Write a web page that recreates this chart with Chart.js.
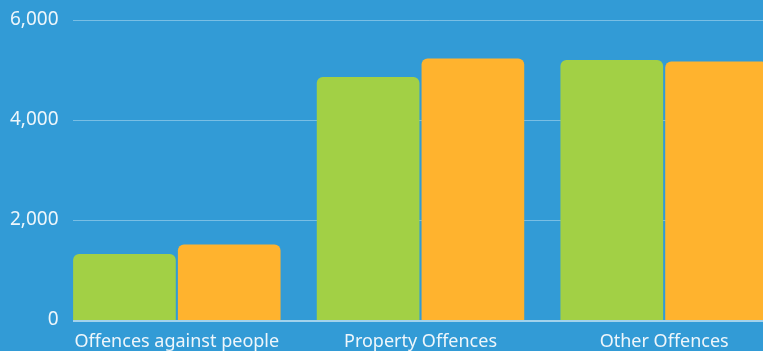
<!DOCTYPE html>
<html>
<head>
<meta charset="utf-8">
<script src="https://cdn.jsdelivr.net/npm/chart.js@4.4.1/dist/chart.umd.min.js"></script>
<style>
  html, body { margin: 0; padding: 0; background: #329bd6; overflow: hidden; }
  #wrap { position: absolute; left: 0; top: 0; width: 786px; height: 351px; }
</style>
</head>
<body>
<div id="wrap"><canvas id="offences-chart"></canvas></div>
<script>
// ===============================
// DATA
// ===============================
const categories = ["Offences against people", "Property Offences", "Other Offences"];
const seriesA = [1320, 4860, 5200];
const seriesB = [1510, 5230, 5170];
const yTicks = [0, 2000, 4000, 6000];

const GREEN = "#a2d045";
const ORANGE = "#ffb32e";
const TEXT = "#eef6fb";

// horizontal guide lines start at the left edge of the first bar
function firstBarLeft(chart) {
    const first = chart.getDatasetMeta(0).data[0];
    return Math.round(first.x - first.width / 2);
}

const guideLines = {
    id: "guideLines",
    beforeDatasetsDraw(chart) {
        const { ctx, scales } = chart;
        const left = firstBarLeft(chart);
        ctx.save();
        ctx.strokeStyle = "rgba(255,255,255,0.35)";
        ctx.lineWidth = 1;
        yTicks.forEach(v => {
            if (v === 0) return;
            const y = Math.round(scales.y.getPixelForValue(v)) + 0.5;
            ctx.beginPath();
            ctx.moveTo(left, y);
            ctx.lineTo(chart.width, y);
            ctx.stroke();
        });
        ctx.restore();
    },
    afterDatasetsDraw(chart) {
        const { ctx, scales } = chart;
        const left = firstBarLeft(chart);
        const y = Math.round(scales.y.getPixelForValue(0)) + 1;
        ctx.save();
        ctx.strokeStyle = "rgba(255,255,255,0.55)";
        ctx.lineWidth = 2;
        ctx.beginPath();
        ctx.moveTo(left, y);
        ctx.lineTo(chart.width, y);
        ctx.stroke();
        ctx.restore();
    }
};

// ===============================
// CHART
// ===============================
new Chart(document.getElementById("offences-chart"), {
    type: "bar",
    data: {
        labels: categories,
        datasets: [
            { label: "Series 1", data: seriesA, backgroundColor: GREEN, borderRadius: { topLeft: 6, topRight: 6 } },
            { label: "Series 2", data: seriesB, backgroundColor: ORANGE, borderRadius: { topLeft: 6, topRight: 6 } }
        ]
    },
    options: {
        responsive: true,
        maintainAspectRatio: false,
        animation: false,
        categoryPercentage: 0.86,
        barPercentage: 0.98,
        layout: { padding: { top: 20, right: 0, bottom: 0, left: 0 } },
        plugins: {
            legend: { display: false },
            tooltip: { enabled: false }
        },
        scales: {
            x: {
                offset: true,
                afterFit(scale) {
                    scale.height = 31;
                },
                grid: { display: false, drawTicks: false },
                border: { display: false },
                ticks: {
                    color: TEXT,
                    padding: 11,
                    maxRotation: 0,
                    autoSkip: false,
                    font: { family: "Noto Sans", size: 18 }
                }
            },
            y: {
                min: 0,
                max: 6000,
                afterBuildTicks(scale) {
                    scale.ticks = yTicks.map(v => ({ value: v }));
                },
                afterFit(scale) {
                    scale.width = 55;
                },
                grid: { display: false, drawTicks: false },
                border: { display: false },
                ticks: {
                    color: TEXT,
                    mirror: true,
                    crossAlign: "far",
                    padding: -45,
                    font: { family: "Noto Sans", size: 19 },
                    callback: v => v.toLocaleString("en-US")
                }
            }
        }
    },
    plugins: [guideLines]
});
</script>
</body>
</html>
